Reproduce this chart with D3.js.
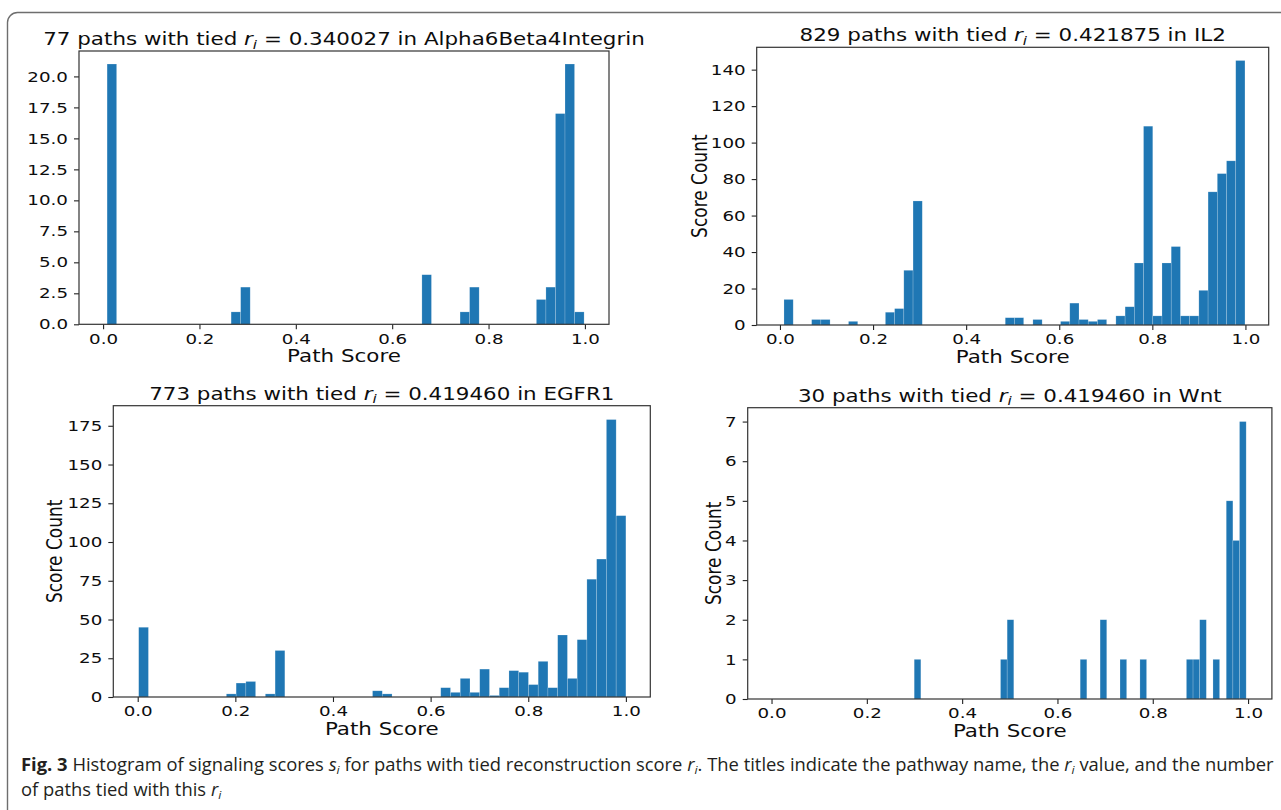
<!DOCTYPE html>
<html><head><meta charset="utf-8">
<script src="https://cdn.jsdelivr.net/npm/d3@7"></script>
<style>
html,body{margin:0;padding:0;background:#fff;}
svg{display:block;}
</style></head><body>
<svg id="chart" width="1281" height="810"></svg>
<script>
// ---------------- data ----------------
const xTicks = [0.0, 0.2, 0.4, 0.6, 0.8, 1.0];
const xDomain = [-0.05, 1.05];

const pathCounts = [77, 829, 773, 30];
const rValues = ["0.340027", "0.421875", "0.419460", "0.419460"];
const pathwayNames = ["Alpha6Beta4Integrin", "IL2", "EGFR1", "Wnt"];

// 50-bin histogram counts per pathway, with the bin range [min, max]
const countsAlpha = [21,0,0,0,0,0,0,0,0,0, 0,0,0,1,3,0,0,0,0,0, 0,0,0,0,0,0,0,0,0,0, 0,0,0,4,0,0,0,1,3,0, 0,0,0,0,0,2,3,17,21,1];
const binRangeAlpha = [0.0083, 0.9983];
const yTicksAlpha = [0, 2.5, 5, 7.5, 10, 12.5, 15, 17.5, 20];

const countsIL2 = [14,0,0,3,3,0,0,2,0,0, 0,7,9,30,68,0,0,0,0,0, 0,0,0,0,4,4,0,3,0,0, 2,12,3,2,3,0,5,10,34,109, 5,34,43,5,5,19,73,83,90,145];
const binRangeIL2 = [0.0086, 0.999];
const yTicksIL2 = [0, 20, 40, 60, 80, 100, 120, 140];

const countsEGFR1 = [45,0,0,0,0,0,0,0,0,2, 9,10,0,2,30,0,0,0,0,0, 0,0,0,0,4,2,0,0,0,0, 0,6,3,12,3,18,1,6,17,16, 8,23,6,40,12,37,76,89,179,117];
const binRangeEGFR1 = [0.002, 1.0];
const yTicksEGFR1 = [0, 25, 50, 75, 100, 125, 150, 175];

const countsWnt = [1,0,0,0,0,0,0,0,0,0, 0,0,0,1,2,0,0,0,0,0, 0,0,0,0,0,1,0,0,2,0, 0,1,0,0,1,0,0,0,0,0, 0,1,1,2,0,1,0,5,4,7];
const binRangeWnt = [0.2994, 0.996];
const yTicksWnt = [0, 1, 2, 3, 4, 5, 6, 7];

const xLabel = "Path Score";
const yLabel = "Score Count";

// ---------------- layout ----------------
const SX = 1.26;          // horizontal stretch of the original figure's text
const FONT = "DejaVu Sans, Verdana, sans-serif";
const TXT = "#0d0d0d";
const BAR = "#1f77b4";
const TICKF = 14.5, LABF = 17;

const panels = [
  {counts: countsAlpha, range: binRangeAlpha, yTicks: yTicksAlpha, yFmt: ".1f", showY: false,
   box: {x0: 79, x1: 609, y0: 51, y1: 324.3}, ylabDx: 0},
  {counts: countsIL2, range: binRangeIL2, yTicks: yTicksIL2, yFmt: "d", showY: true,
   box: {x0: 756.7, x1: 1268.7, y0: 47.3, y1: 325}, ylabDx: -49.5},
  {counts: countsEGFR1, range: binRangeEGFR1, yTicks: yTicksEGFR1, yFmt: "d", showY: true,
   box: {x0: 113.3, x1: 650.3, y0: 405.7, y1: 697}, ylabDx: -51},
  {counts: countsWnt, range: binRangeWnt, yTicks: yTicksWnt, yFmt: "d", showY: true,
   box: {x0: 747.7, x1: 1271.9, y0: 407.7, y1: 699}, ylabDx: -26.5}
];

const svg = d3.select("#chart");

// outer frame
svg.append("rect")
  .attr("x", 7.5).attr("y", 12.5).attr("width", 1320).attr("height", 900)
  .attr("rx", 10).attr("fill", "none").attr("stroke", "#6e6e6e").attr("stroke-width", 1.4);

panels.forEach((p, i) => {
  const B = p.box;
  const g = svg.append("g");
  const x = d3.scaleLinear().domain(xDomain).range([B.x0, B.x1]);
  const y = d3.scaleLinear().domain([0, d3.max(p.counts) * 1.05]).range([B.y1, B.y0]);
  const n = p.counts.length;
  const w = (p.range[1] - p.range[0]) / n;
  const bins = p.counts.map((c, k) => ({x0: p.range[0] + k * w, x1: p.range[0] + (k + 1) * w, c}));

  g.selectAll("rect.bar").data(bins.filter(b => b.c > 0)).join("rect")
    .attr("class", "bar")
    .attr("x", b => x(b.x0)).attr("width", b => x(b.x1) - x(b.x0))
    .attr("y", b => y(b.c)).attr("height", b => y(0) - y(b.c))
    .attr("fill", BAR).attr("stroke", "rgba(255,255,255,0.3)").attr("stroke-width", 0.6);

  // x axis
  const xa = g.append("g").attr("transform", `translate(0,${B.y1})`)
    .call(d3.axisBottom(x).tickValues(xTicks).tickFormat(d3.format(".1f")).tickSize(5).tickPadding(4));
  xa.select(".domain").remove();
  xa.selectAll("line").attr("stroke", "#222").attr("stroke-width", 1.1);
  xa.selectAll("text").attr("font-family", FONT).attr("font-size", TICKF).attr("fill", TXT)
    .attr("transform", `scale(${SX},1)`);

  // y axis
  const ya = g.append("g").attr("transform", `translate(${B.x0},0)`)
    .call(d3.axisLeft(y).tickValues(p.yTicks).tickFormat(d3.format(p.yFmt)).tickSize(5).tickPadding(6));
  ya.select(".domain").remove();
  ya.selectAll("line").attr("stroke", "#222").attr("stroke-width", 1.1);
  ya.selectAll("text").attr("font-family", FONT).attr("font-size", TICKF).attr("fill", TXT)
    .attr("x", -11 / SX).attr("transform", `scale(${SX},1)`);

  // frame
  g.append("rect").attr("x", B.x0).attr("y", B.y0).attr("width", B.x1 - B.x0).attr("height", B.y1 - B.y0)
    .attr("fill", "none").attr("stroke", "#333").attr("stroke-width", 1.2);

  // x label
  g.append("text")
    .attr("transform", `translate(${(B.x0 + B.x1) / 2},${B.y1 + 37.5}) scale(${SX},1)`)
    .attr("text-anchor", "middle").attr("font-family", FONT).attr("font-size", LABF).attr("fill", TXT)
    .text(xLabel);

  // y label
  if (p.showY) {
    g.append("text")
      .attr("transform", `translate(${B.x0 + p.ylabDx},${(B.y0 + B.y1) / 2}) scale(${SX},1) rotate(-90)`)
      .attr("text-anchor", "middle").attr("font-family", FONT).attr("font-size", LABF).attr("fill", TXT)
      .text(yLabel);
  }

  // title
  const t = g.append("text")
    .attr("transform", `translate(${(B.x0 + B.x1) / 2},${B.y0 - 6}) scale(${SX},1)`)
    .attr("text-anchor", "middle").attr("font-family", FONT).attr("font-size", LABF).attr("fill", TXT);
  t.append("tspan").text(`${pathCounts[i]} paths with tied `);
  t.append("tspan").attr("font-style", "italic").text("r");
  t.append("tspan").attr("font-size", 12).attr("font-style", "italic").attr("dy", 3.5).text("i");
  t.append("tspan").attr("dy", -3.5).text(` = ${rValues[i]} in ${pathwayNames[i]}`);
});

// caption
const CAPF = "'Liberation Sans Narrow', 'Open Sans', 'Noto Sans', sans-serif";
const cap = svg.append("g");
function addLine(parent, yb, parts) {
  const tx = parent.append("text").attr("x", 0).attr("y", yb)
    .attr("font-family", CAPF).attr("font-size", 17.5).attr("fill", "#231f20");
  parts.forEach(pt => {
    const s = tx.append("tspan").text(pt.t);
    if (pt.b) s.attr("font-weight", "bold");
    if (pt.i) s.attr("font-style", "italic");
    if (pt.sub) s.attr("font-size", 11.5).attr("dy", 3);
    if (pt.up) s.attr("dy", -3);
  });
  return tx;
}
const line1 = addLine(cap, 0, [
  {t: "Fig. 3", b: true},
  {t: " Histogram of signaling scores "},
  {t: "s", i: true}, {t: "i", i: true, sub: true},
  {t: " for paths with tied reconstruction score ", up: true},
  {t: "r", i: true}, {t: "i", i: true, sub: true},
  {t: ". The titles indicate the pathway name, the ", up: true},
  {t: "r", i: true}, {t: "i", i: true, sub: true},
  {t: " value, and the number", up: true}
]);
const line2 = addLine(cap, 25, [
  {t: "of paths tied with this "},
  {t: "r", i: true}, {t: "i", i: true, sub: true}
]);
const natural = line1.node().getComputedTextLength();
const k = 1254 / natural;
cap.attr("transform", `translate(21,771) scale(${k},1)`);
</script>
</body></html>
